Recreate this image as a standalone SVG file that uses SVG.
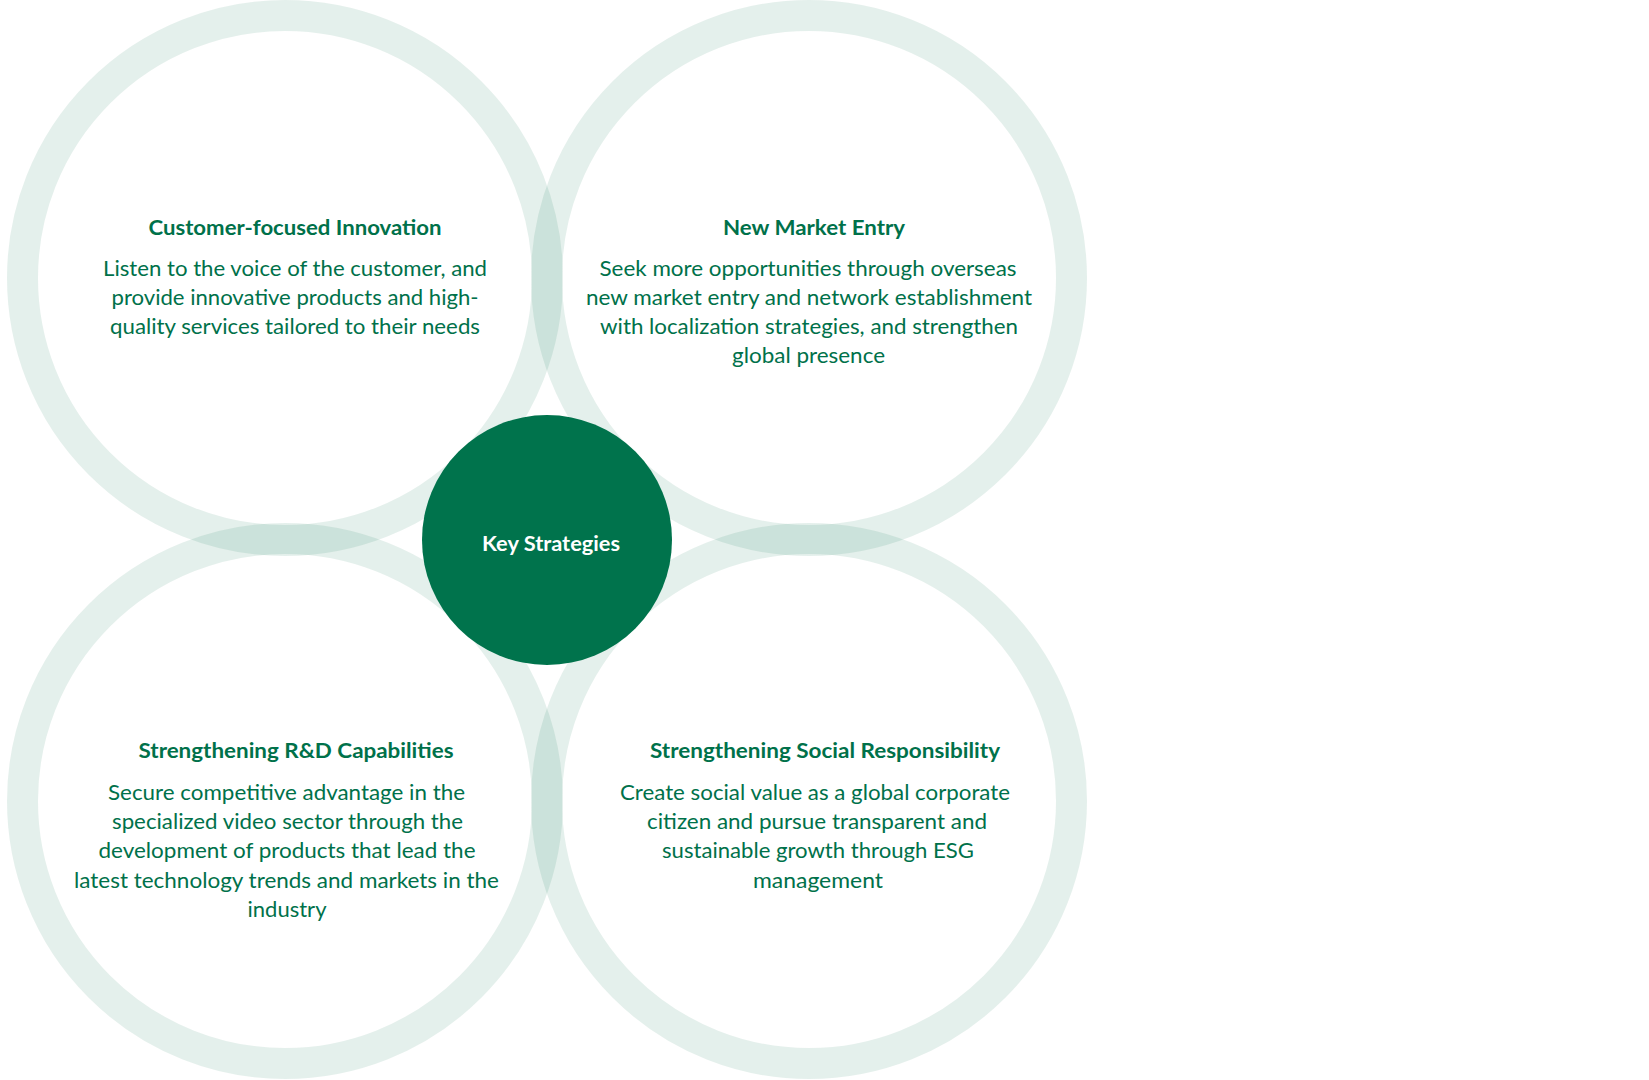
<svg xmlns="http://www.w3.org/2000/svg" width="1649" height="1080" viewBox="0 0 1649 1080">
<style>
.ring{fill:none;stroke:#00714A;stroke-opacity:0.105;stroke-width:31}
.t{font-family:Lato,"Open Sans","Liberation Sans",sans-serif;font-size:20.5px;fill:#00714A;text-anchor:middle}
.h{font-weight:bold}
.k{font-family:Lato,"Open Sans","Liberation Sans",sans-serif;font-size:20.5px;font-weight:bold;fill:#ffffff;text-anchor:middle}
</style>
<rect width="1649" height="1080" fill="#ffffff"/>
<g id="connectors"></g>
<g id="node-customer">
<circle class="ring" cx="285" cy="278" r="262.5"/>
<text class="t h" x="295" y="235" textLength="293" lengthAdjust="spacingAndGlyphs">Customer-focused Innovation</text>
<text class="t" x="295" y="276" textLength="384" lengthAdjust="spacingAndGlyphs">Listen to the voice of the customer, and</text>
<text class="t" x="295" y="305" textLength="367" lengthAdjust="spacingAndGlyphs">provide innovative products and high-</text>
<text class="t" x="295" y="334" textLength="370" lengthAdjust="spacingAndGlyphs">quality services tailored to their needs</text>
</g>
<g id="node-market">
<circle class="ring" cx="809" cy="278" r="262.5"/>
<text class="t h" x="814" y="235" textLength="182" lengthAdjust="spacingAndGlyphs">New Market Entry</text>
<text class="t" x="808" y="276" textLength="417" lengthAdjust="spacingAndGlyphs">Seek more opportunities through overseas</text>
<text class="t" x="809" y="305" textLength="446" lengthAdjust="spacingAndGlyphs">new market entry and network establishment</text>
<text class="t" x="809" y="334" textLength="418" lengthAdjust="spacingAndGlyphs">with localization strategies, and strengthen</text>
<text class="t" x="808.5" y="363" textLength="153" lengthAdjust="spacingAndGlyphs">global presence</text>
</g>
<g id="node-rd">
<circle class="ring" cx="285" cy="801" r="262.5"/>
<text class="t h" x="296" y="758" textLength="315" lengthAdjust="spacingAndGlyphs">Strengthening R&amp;D Capabilities</text>
<text class="t" x="286.5" y="800" textLength="357" lengthAdjust="spacingAndGlyphs">Secure competitive advantage in the</text>
<text class="t" x="287.5" y="829" textLength="351" lengthAdjust="spacingAndGlyphs">specialized video sector through the</text>
<text class="t" x="287" y="858" textLength="377" lengthAdjust="spacingAndGlyphs">development of products that lead the</text>
<text class="t" x="286.5" y="888" textLength="425" lengthAdjust="spacingAndGlyphs">latest technology trends and markets in the</text>
<text class="t" x="287" y="917" textLength="79" lengthAdjust="spacingAndGlyphs">industry</text>
</g>
<g id="node-social">
<circle class="ring" cx="809" cy="801" r="262.5"/>
<text class="t h" x="825" y="758" textLength="350" lengthAdjust="spacingAndGlyphs">Strengthening Social Responsibility</text>
<text class="t" x="815" y="800" textLength="390" lengthAdjust="spacingAndGlyphs">Create social value as a global corporate</text>
<text class="t" x="817" y="829" textLength="340" lengthAdjust="spacingAndGlyphs">citizen and pursue transparent and</text>
<text class="t" x="818" y="858" textLength="312" lengthAdjust="spacingAndGlyphs">sustainable growth through ESG</text>
<text class="t" x="818" y="888" textLength="130" lengthAdjust="spacingAndGlyphs">management</text>
</g>
<g id="node-center">
<circle cx="547" cy="540" r="125" fill="#00734C"/>
<text class="k" x="551" y="551" textLength="138" lengthAdjust="spacingAndGlyphs">Key Strategies</text>
</g>
</svg>
